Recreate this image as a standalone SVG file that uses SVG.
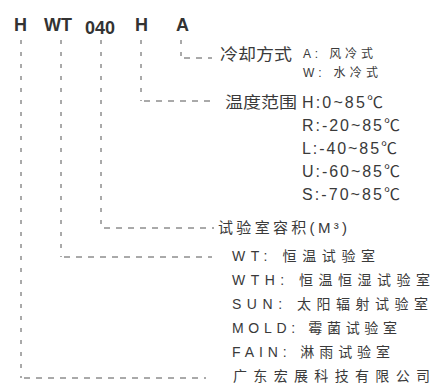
<svg xmlns="http://www.w3.org/2000/svg" width="432" height="387" viewBox="0 0 432 387">
<style>
.hd{font-family:"Liberation Sans",Arial,sans-serif;font-weight:bold;font-size:18px;fill:#333}
.t{font-family:"Liberation Sans","Noto Sans CJK SC",sans-serif;fill:#3a3a3a}
.lg{font-size:16px}
.md{font-size:15px}
.sm{font-size:14px}
.xs{font-size:12px}
.v{stroke:#555;stroke-width:1;fill:none;stroke-dasharray:4 8}
.h{stroke:#555;stroke-width:1;fill:none;stroke-dasharray:6 6}
</style>
<rect width="432" height="387" fill="#fff"/>
<g id="header">
<text class="hd" x="14" y="31">H</text>
<text class="hd" x="44" y="31">WT</text>
<text class="hd" x="85" y="34">040</text>
<text class="hd" x="135" y="31">H</text>
<text class="hd" x="176" y="31">A</text>
</g>
<g id="connectors">
<path class="v" d="M181,40V58"/><path class="h" d="M184,58H212"/>
<path class="v" d="M141,40V101"/><path class="h" d="M144,101H212"/>
<path class="v" d="M101,40V228"/><path class="h" d="M104,228H214"/>
<path class="v" d="M61,40V257"/><path class="h" d="M64,257H212"/>
<path class="v" d="M21,40V378"/><path class="h" d="M24,378H206"/>
</g>
<g id="cooling">
<text class="t lg" x="220" y="60" textLength="72" lengthAdjust="spacingAndGlyphs">冷却方式</text>
<text class="t xs" x="303" y="58" textLength="70">A: 风冷式</text>
<text class="t xs" x="303" y="77" textLength="75">W: 水冷式</text>
</g>
<g id="temperature">
<text class="t lg" x="225" y="108" textLength="72" lengthAdjust="spacingAndGlyphs">温度范围</text>
<text class="t lg" x="302" y="108" textLength="81">H:0~85℃</text>
<text class="t lg" x="302" y="131" textLength="98">R:-20~85℃</text>
<text class="t lg" x="302" y="154" textLength="95">L:-40~85℃</text>
<text class="t lg" x="302" y="177" textLength="98">U:-60~85℃</text>
<text class="t lg" x="302" y="200" textLength="98">S:-70~85℃</text>
</g>
<g id="volume">
<text class="t md" x="218" y="233" textLength="129">试验室容积(M³)</text>
</g>
<g id="type">
<text class="t sm" x="232" y="261" textLength="143">WT: 恒温试验室</text>
<text class="t sm" x="232" y="285" textLength="198">WTH: 恒温恒湿试验室</text>
<text class="t sm" x="232" y="309" textLength="196">SUN: 太阳辐射试验室</text>
<text class="t sm" x="232" y="333" textLength="165">MOLD: 霉菌试验室</text>
<text class="t sm" x="232" y="357" textLength="158">FAIN: 淋雨试验室</text>
</g>
<g id="company">
<text class="t sm" x="233" y="381" textLength="197">广东宏展科技有限公司</text>
</g>
</svg>
